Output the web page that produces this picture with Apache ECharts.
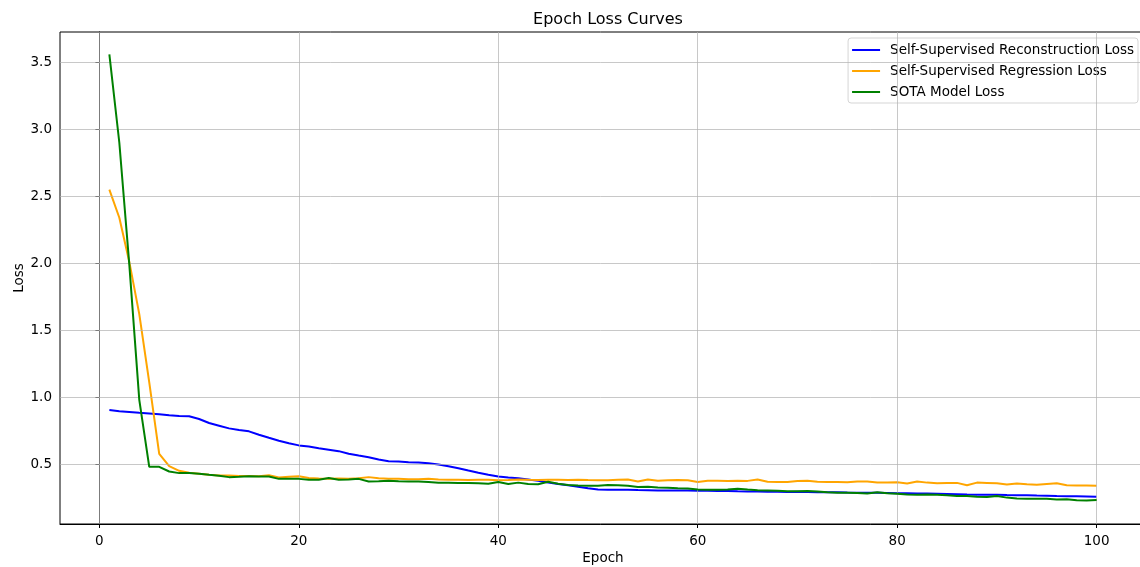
<!DOCTYPE html>
<html>
<head>
<meta charset="utf-8">
<script src="https://cdn.jsdelivr.net/npm/echarts@6/dist/echarts.min.js"></script>
<style>
  html, body { margin: 0; padding: 0; background: #fff; }
  #main { width: 1140px; height: 567px; }
</style>
</head>
<body>
<div id="main"></div>
<script>
// 数据
var epochs = [];
for (var i = 1; i <= 100; i++) { epochs.push(i); }

var reconLoss = [
  0.905, 0.895, 0.89, 0.883, 0.878, 0.873, 0.865, 0.859, 0.857, 0.837,
  0.807, 0.787, 0.767, 0.755, 0.745, 0.72, 0.697, 0.675, 0.656, 0.64,
  0.631, 0.619, 0.608, 0.597, 0.577, 0.564, 0.552, 0.534, 0.522, 0.52,
  0.515, 0.512, 0.507, 0.498, 0.485, 0.47, 0.452, 0.435, 0.42, 0.408,
  0.4, 0.395, 0.386, 0.375, 0.363, 0.352, 0.342, 0.332, 0.32, 0.311,
  0.309, 0.309, 0.308, 0.306, 0.305, 0.304, 0.303, 0.304, 0.303, 0.302,
  0.301, 0.3, 0.299, 0.297, 0.296, 0.295, 0.294, 0.293, 0.292, 0.293,
  0.292, 0.291, 0.29, 0.29, 0.288, 0.287, 0.287, 0.286, 0.285, 0.283,
  0.282, 0.281, 0.281, 0.279, 0.277, 0.275, 0.273, 0.272, 0.272, 0.271,
  0.269, 0.268, 0.267, 0.265, 0.264, 0.262, 0.261, 0.26, 0.258, 0.256
];

var regressionLoss = [
  2.55, 2.34, 2.01, 1.62, 1.11, 0.577, 0.485, 0.45, 0.435, 0.428,
  0.42, 0.416, 0.415, 0.412, 0.412, 0.41, 0.418, 0.4, 0.406, 0.41,
  0.397, 0.393, 0.39, 0.392, 0.39, 0.394, 0.403, 0.395, 0.39, 0.39,
  0.388, 0.388, 0.39, 0.386, 0.383, 0.383, 0.382, 0.384, 0.383, 0.38,
  0.382, 0.385, 0.383, 0.382, 0.384, 0.383, 0.382, 0.384, 0.381, 0.38,
  0.38, 0.384, 0.386, 0.371, 0.386, 0.376, 0.379, 0.381, 0.38, 0.366,
  0.376, 0.376, 0.375, 0.376, 0.375, 0.386, 0.368, 0.366, 0.367, 0.374,
  0.376, 0.368, 0.366, 0.366, 0.365, 0.371, 0.37, 0.363, 0.363, 0.364,
  0.356, 0.37, 0.362, 0.358, 0.36, 0.36, 0.343, 0.362, 0.36, 0.357,
  0.348, 0.355, 0.349, 0.347, 0.352, 0.357, 0.342, 0.34, 0.34, 0.339
];

var sotaLoss = [
  3.56, 2.9, 1.99, 0.98, 0.48, 0.48, 0.445, 0.433, 0.433, 0.428,
  0.42, 0.413, 0.403, 0.406, 0.41, 0.408, 0.408, 0.39, 0.39, 0.39,
  0.383, 0.383, 0.396, 0.383, 0.385, 0.39, 0.371, 0.373, 0.376, 0.373,
  0.371, 0.371, 0.366, 0.361, 0.361, 0.359, 0.359, 0.357, 0.354, 0.366,
  0.352, 0.362, 0.352, 0.35, 0.368, 0.354, 0.345, 0.34, 0.339, 0.338,
  0.345, 0.343, 0.338, 0.33, 0.332, 0.326, 0.324, 0.32, 0.318, 0.311,
  0.309, 0.309, 0.31, 0.316, 0.31, 0.305, 0.304, 0.302, 0.298, 0.297,
  0.3, 0.296, 0.29, 0.287, 0.287, 0.285, 0.28, 0.29, 0.282, 0.279,
  0.273, 0.272, 0.273, 0.272, 0.267, 0.263, 0.262, 0.256, 0.255, 0.262,
  0.25, 0.243, 0.242, 0.241, 0.242, 0.236, 0.237, 0.23, 0.228, 0.232
];

var xTicks = [0, 20, 40, 60, 80, 100];
var yTicks = [0.5, 1.0, 1.5, 2.0, 2.5, 3.0, 3.5];

var seriesNames = ['Self-Supervised Reconstruction Loss', 'Self-Supervised Regression Loss', 'SOTA Model Loss'];
var seriesColors = ['#0000ff', '#ffa500', '#008000'];
var seriesData = [reconLoss, regressionLoss, sotaLoss];

var FONT = 'DejaVu Sans';

function pairs(values) {
  var out = [];
  for (var i = 0; i < values.length; i++) {
    out.push([epochs[i], values[i]]);
  }
  return out;
}

// 网格线
var gridLines = [];
xTicks.forEach(function (v) { gridLines.push({ xAxis: v }); });
yTicks.forEach(function (v) { gridLines.push({ yAxis: v }); });

var series = [];
for (var k = 0; k < seriesNames.length; k++) {
  series.push({
    name: seriesNames[k],
    type: 'line',
    data: pairs(seriesData[k]),
    showSymbol: false,
    symbol: 'none',
    z: 3 + k,
    lineStyle: { color: seriesColors[k], width: 2 },
    itemStyle: { color: seriesColors[k] }
  });
}
series.push({
  type: 'line',
  data: [],
  silent: true,
  z: 1,
  markLine: {
    silent: true,
    symbol: 'none',
    label: { show: false },
    animation: false,
    lineStyle: { color: '#b0b0b0', width: 1, type: 'solid', opacity: 0.7 },
    emphasis: { disabled: true },
    data: gridLines
  }
});

var myChart = echarts.init(document.getElementById('main'));
var option = {
  animation: false,
  backgroundColor: '#ffffff',
  textStyle: { fontFamily: FONT },
  title: {
    text: 'Epoch Loss Curves',
    left: 603,
    textAlign: 'center',
    top: 7,
    textStyle: { fontFamily: FONT, fontSize: 16, fontWeight: 'normal', color: '#000' }
  },
  legend: {
    data: seriesNames,
    orient: 'vertical',
    right: 2,
    top: 38,
    align: 'left',
    icon: 'rect',
    itemWidth: 28,
    itemHeight: 2,
    itemGap: 7,
    padding: [5, 4, 4, 4],
    backgroundColor: 'rgba(255,255,255,0.85)',
    borderColor: '#d5d5d5',
    borderWidth: 1,
    borderRadius: 3,
    textStyle: { fontFamily: FONT, fontSize: 13.5, color: '#000', padding: [0, 0, 0, 5] }
  },
  grid: {
    left: 60,
    width: 1086,
    top: 32,
    bottom: 43,
    outerBoundsMode: 'none',
    containLabel: false,
    show: true,
    borderColor: '#000',
    borderWidth: 1
  },
  xAxis: {
    type: 'value',
    min: -3.95,
    max: 104.95,
    name: 'Epoch',
    nameLocation: 'middle',
    nameGap: 27,
    nameMoveOverlap: false,
    nameTextStyle: { fontFamily: FONT, fontSize: 13.5, color: '#000' },
    axisLine: { show: true, lineStyle: { color: '#000', width: 1 } },
    axisTick: { show: true, length: 4, lineStyle: { color: '#000' }, customValues: xTicks },
    axisLabel: { fontFamily: FONT, fontSize: 13.5, color: '#000', margin: 10, customValues: xTicks },
    splitLine: { show: false }
  },
  yAxis: {
    type: 'value',
    min: 0.053,
    max: 3.727,
    name: 'Loss',
    nameLocation: 'middle',
    nameGap: 34,
    nameMoveOverlap: false,
    nameTextStyle: { fontFamily: FONT, fontSize: 13.5, color: '#000' },
    axisLine: { show: true, lineStyle: { color: '#000', width: 1 } },
    axisTick: { show: true, length: 4, lineStyle: { color: '#000' }, customValues: yTicks },
    axisLabel: {
      fontFamily: FONT, fontSize: 13.5, color: '#000', margin: 8, customValues: yTicks,
      formatter: function (v) { return v.toFixed(1); }
    },
    splitLine: { show: false }
  },
  series: series
};
myChart.setOption(option);
</script>
</body>
</html>
